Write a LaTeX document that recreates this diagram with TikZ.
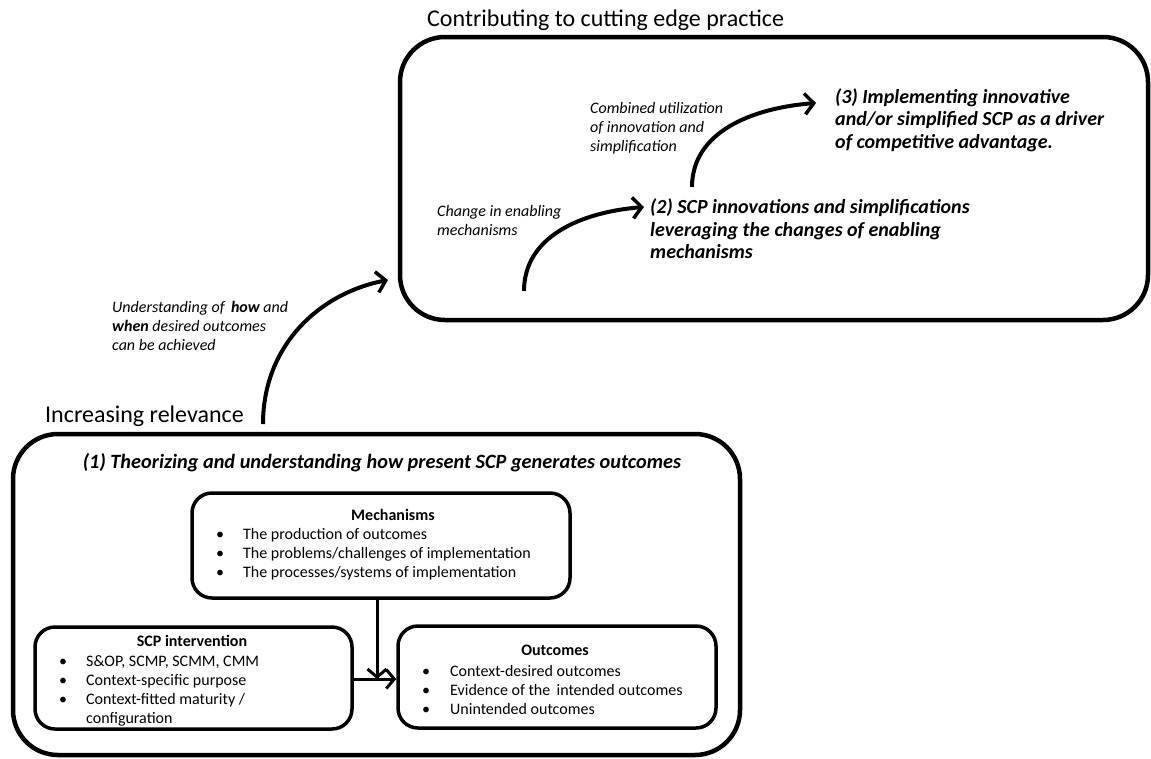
\documentclass[tikz,border=0pt]{standalone}
\usepackage{fontspec}
\setmainfont{Carlito}
\usetikzlibrary{arrows.meta}
\begin{document}
\begin{tikzpicture}[x=1pt,y=-1pt,
  outerbox/.style={draw,line width=4.5pt,rounded corners=45pt},
  innerbox/.style={draw,line width=3.5pt,rounded corners=20pt},
  bigarrow/.style={line width=4pt,-{Straight Barb[length=9pt,width=21pt,line width=3.5pt]}},
  flowarrow/.style={line width=3pt,-{Straight Barb[length=8pt,width=19pt,line width=3pt]}},
  heading/.style={font=\fontsize{24}{28}\selectfont,inner sep=0pt,anchor=west},
  stage/.style={font=\fontsize{20}{22.5}\selectfont\bfseries\itshape,align=left,inner sep=0pt,anchor=west},
  note/.style={font=\fontsize{16}{19}\selectfont\itshape,align=left,inner sep=0pt,anchor=west},
  boxtitle/.style={font=\fontsize{16}{19}\selectfont\bfseries,inner sep=0pt},
  items/.style={font=\fontsize{16}{19}\selectfont,align=left,inner sep=0pt,anchor=north west},
]
\useasboundingbox (0,0) rectangle (1151,758);

% upper frame: contributing to cutting edge practice
\node[heading] (toptitle) at (427,20) {Contributing to cutting edge practice};
\draw[outerbox] (400,37) rectangle (1148,320);
\node[stage] (s3) at (835,120) {(3) Implementing innovative\\and/or simplified SCP as a driver\\of competitive advantage.};
\node[stage] (s2) at (650,229) {(2) SCP innovations and simplifications\\leveraging the changes of enabling\\mechanisms};
\node[note] (n3) at (590,128) {Combined utilization\\of innovation and\\simplification};
\node[note] (n2) at (437,220) {Change in enabling\\mechanisms};

\coordinate (a2s) at (524,291);
\coordinate (a2e) at (644,207);
\coordinate (a3s) at (692,187);
\coordinate (a3e) at (816,103);
\draw[bigarrow] (a2s) .. controls (524,236) and (582,212) .. (a2e);
\draw[bigarrow] (a3s) .. controls (692,132) and (752,108) .. (a3e);

% link between the two frames
\node[note] (n1) at (112,326) {Understanding of \,\textbf{how} and\\\textbf{when} desired outcomes\\can be achieved};
\coordinate (a1s) at (263,424);
\coordinate (a1e) at (388,280);
\draw[bigarrow] (a1s) .. controls (263,345) and (320,293) .. (a1e);

% lower frame: increasing relevance
\node[heading] (bottitle) at (45,416) {Increasing relevance};
\draw[outerbox] (13,434) rectangle (740,755);
\node[stage,anchor=center,font=\fontsize{20.3}{22.5}\selectfont\bfseries\itshape] (s1) at (382,463) {(1) Theorizing and understanding how present SCP generates outcomes};

% mechanisms
\node[innerbox,minimum width=378pt,minimum height=105pt] (mech) at (381,545.5) {};
\node[boxtitle] (mecht) at (393,515) {Mechanisms};
\node[items] (mechi) at (216,528) {\makebox[27pt][l]{•}The production of outcomes\\
\makebox[27pt][l]{•}The problems/challenges of implementation\\
\makebox[27pt][l]{•}The processes/systems of implementation};

% SCP intervention
\node[innerbox,minimum width=317pt,minimum height=102pt] (scp) at (193.5,678) {};
\node[boxtitle] (scpt) at (192,641) {SCP intervention};
\node[items] (scpi) at (59,655) {\makebox[27pt][l]{•}S\&OP, SCMP, SCMM, CMM\\
\makebox[27pt][l]{•}Context-specific purpose\\
\makebox[27pt][l]{•}Context-fitted maturity /\\
\makebox[27pt][l]{}configuration};

% outcomes
\node[innerbox,minimum width=318pt,minimum height=102pt] (out) at (557,677) {};
\node[boxtitle] (outt) at (555,650) {Outcomes};
\node[items] (outi) at (422,665) {\makebox[28pt][l]{•}Context-desired outcomes\\
\makebox[28pt][l]{•}Evidence of the \,intended outcomes\\
\makebox[28pt][l]{•}Unintended outcomes};

% flows into outcomes
\coordinate (meet) at (377,679);
\draw[flowarrow] (mech.south -| meet) -- (meet);
\draw[flowarrow] (scp.east |- meet) -- (out.west |- meet);
\end{tikzpicture}
\end{document}
